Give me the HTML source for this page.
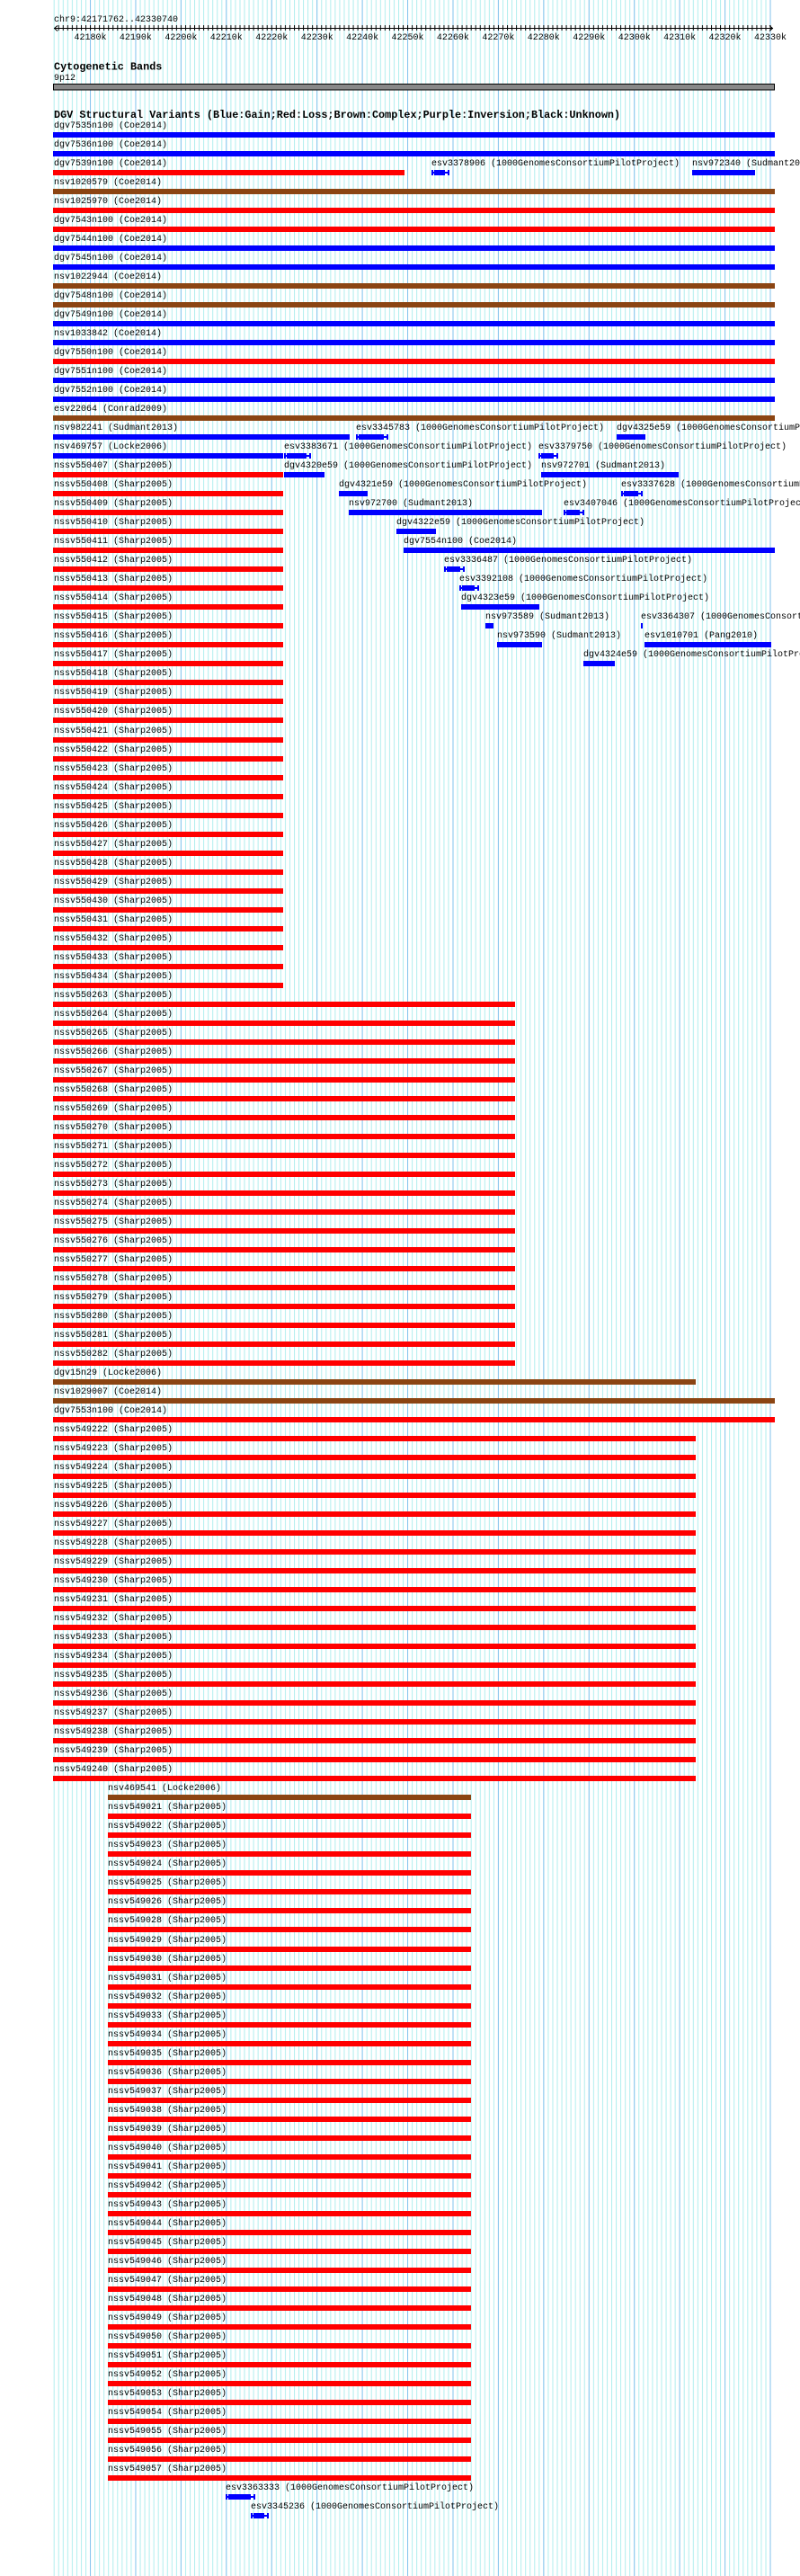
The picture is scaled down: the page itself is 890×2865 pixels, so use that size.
<!DOCTYPE html>
<html><head><meta charset="utf-8"><style>
body{margin:0;background:#fff;width:890px;height:2865px;position:relative;overflow:hidden;font-family:"Liberation Mono",monospace}
svg.bg{position:absolute;left:0;top:0}
#rows{position:absolute;left:0;top:135px;width:890px;overflow:hidden}
.r{position:relative;height:21.02px}
.t{position:absolute;top:0;font:10px/11px "Liberation Mono",monospace;color:#000;white-space:nowrap}
.b{position:absolute;top:12px;height:6px}
.B{background:#0000ff}.R{background:#ff0000}.N{background:#8b4513}
.f{left:59px;width:803px}
.s1{left:59px;width:256px}
.s2{left:59px;width:514px}
.s3{left:59px;width:715px}
.s4{left:120px;width:404px}
.i{position:absolute;top:12px;height:6px}
.i:before{content:"";position:absolute;left:0;right:0;top:2px;height:2px;background:#00f}
.i:after{content:"";position:absolute;left:0;right:0;top:0;bottom:0;border-left:2px solid #00f;border-right:2px solid #00f}
.i i{position:absolute;left:3px;right:5px;top:0;height:6px;background:#00f}
</style></head><body>
<svg class="bg" width="890" height="2865" xmlns="http://www.w3.org/2000/svg">
<defs>
<pattern id="mi" patternUnits="userSpaceOnUse" x="59.7" y="0" width="5.0433" height="20"><rect x="0" y="0" width="1" height="20" fill="#b0eeee"/></pattern>
<pattern id="ma" patternUnits="userSpaceOnUse" x="100" y="0" width="50.433" height="20"><rect x="0" y="0" width="1" height="20" fill="#88c4ee"/></pattern>
<pattern id="tk" patternUnits="userSpaceOnUse" x="59.7" y="0" width="5.0433" height="40"><rect x="0" y="28" width="1" height="6" fill="#000"/></pattern>
</defs>
<rect x="59" y="0" width="800" height="2865" fill="url(#mi)"/>
<rect x="59" y="0" width="800" height="2865" fill="url(#ma)"/>
<text x="60" y="24" font-family="Liberation Mono" font-size="10">chr9:42171762..42330740</text>
<rect x="61" y="28" width="798" height="6" fill="url(#tk)"/>
<line x1="60" y1="31.5" x2="860" y2="31.5" stroke="#000" stroke-width="1"/>
<path d="M64 28.5 L60.5 31.5 L64 34.5 M856 28.5 L859.5 31.5 L856 34.5" stroke="#000" fill="none"/>
<g font-family="Liberation Mono" font-size="10" text-anchor="middle">
<text x="100.5" y="44">42180k</text><text x="150.9" y="44">42190k</text><text x="201.4" y="44">42200k</text><text x="251.8" y="44">42210k</text><text x="302.2" y="44">42220k</text><text x="352.7" y="44">42230k</text><text x="403.1" y="44">42240k</text><text x="453.5" y="44">42250k</text><text x="503.9" y="44">42260k</text><text x="554.4" y="44">42270k</text><text x="604.8" y="44">42280k</text><text x="655.2" y="44">42290k</text><text x="705.7" y="44">42300k</text><text x="756.1" y="44">42310k</text><text x="806.5" y="44">42320k</text><text x="857" y="44">42330k</text>
</g>
<text x="60" y="77.5" font-family="Liberation Mono" font-size="11.8" font-weight="bold">Cytogenetic Bands</text>
<text x="60" y="89" font-family="Liberation Mono" font-size="10">9p12</text>
<rect x="59.5" y="93.5" width="802" height="6.5" fill="#888" stroke="#000" stroke-width="1"/>
<text x="60" y="131" font-family="Liberation Mono" font-size="11.8" font-weight="bold">DGV Structural Variants (Blue:Gain;Red:Loss;Brown:Complex;Purple:Inversion;Black:Unknown)</text>
</svg>
<div id="rows">
<div class="r"><span class="t" style="left:60px">dgv7535n100 (Coe2014)</span><div class="b B f"></div></div>
<div class="r"><span class="t" style="left:60px">dgv7536n100 (Coe2014)</span><div class="b B f"></div></div>
<div class="r"><span class="t" style="left:60px">dgv7539n100 (Coe2014)</span><div class="b R" style="left:59px;width:391px"></div><span class="t" style="left:480px">esv3378906 (1000GenomesConsortiumPilotProject)</span><div class="i" style="left:480px;width:20px"><i></i></div><span class="t" style="left:770px">nsv972340 (Sudmant2013)</span><div class="b B" style="left:770px;width:70px"></div></div>
<div class="r"><span class="t" style="left:60px">nsv1020579 (Coe2014)</span><div class="b N f"></div></div>
<div class="r"><span class="t" style="left:60px">nsv1025970 (Coe2014)</span><div class="b R f"></div></div>
<div class="r"><span class="t" style="left:60px">dgv7543n100 (Coe2014)</span><div class="b R f"></div></div>
<div class="r"><span class="t" style="left:60px">dgv7544n100 (Coe2014)</span><div class="b B f"></div></div>
<div class="r"><span class="t" style="left:60px">dgv7545n100 (Coe2014)</span><div class="b B f"></div></div>
<div class="r"><span class="t" style="left:60px">nsv1022944 (Coe2014)</span><div class="b N f"></div></div>
<div class="r"><span class="t" style="left:60px">dgv7548n100 (Coe2014)</span><div class="b N f"></div></div>
<div class="r"><span class="t" style="left:60px">dgv7549n100 (Coe2014)</span><div class="b B f"></div></div>
<div class="r"><span class="t" style="left:60px">nsv1033842 (Coe2014)</span><div class="b B f"></div></div>
<div class="r"><span class="t" style="left:60px">dgv7550n100 (Coe2014)</span><div class="b R f"></div></div>
<div class="r"><span class="t" style="left:60px">dgv7551n100 (Coe2014)</span><div class="b B f"></div></div>
<div class="r"><span class="t" style="left:60px">dgv7552n100 (Coe2014)</span><div class="b B f"></div></div>
<div class="r"><span class="t" style="left:60px">esv22064 (Conrad2009)</span><div class="b N f"></div></div>
<div class="r"><span class="t" style="left:60px">nsv982241 (Sudmant2013)</span><div class="b B" style="left:59px;width:330px"></div><span class="t" style="left:396px">esv3345783 (1000GenomesConsortiumPilotProject)</span><div class="i" style="left:396px;width:36px"><i></i></div><span class="t" style="left:686px">dgv4325e59 (1000GenomesConsortiumPilotProject)</span><div class="b B" style="left:686px;width:32px"></div></div>
<div class="r"><span class="t" style="left:60px">nsv469757 (Locke2006)</span><div class="b B" style="left:59px;width:256px"></div><span class="t" style="left:316px">esv3383671 (1000GenomesConsortiumPilotProject)</span><div class="i" style="left:316px;width:30px"><i></i></div><span class="t" style="left:599px">esv3379750 (1000GenomesConsortiumPilotProject)</span><div class="i" style="left:599px;width:22px"><i></i></div></div>
<div class="r"><span class="t" style="left:60px">nssv550407 (Sharp2005)</span><div class="b R s1"></div><span class="t" style="left:316px">dgv4320e59 (1000GenomesConsortiumPilotProject)</span><div class="b B" style="left:316px;width:45px"></div><span class="t" style="left:602px">nsv972701 (Sudmant2013)</span><div class="b B" style="left:602px;width:153px"></div></div>
<div class="r"><span class="t" style="left:60px">nssv550408 (Sharp2005)</span><div class="b R s1"></div><span class="t" style="left:377px">dgv4321e59 (1000GenomesConsortiumPilotProject)</span><div class="b B" style="left:377px;width:32px"></div><span class="t" style="left:691px">esv3337628 (1000GenomesConsortiumPilotProject)</span><div class="i" style="left:691px;width:24px"><i></i></div></div>
<div class="r"><span class="t" style="left:60px">nssv550409 (Sharp2005)</span><div class="b R s1"></div><span class="t" style="left:388px">nsv972700 (Sudmant2013)</span><div class="b B" style="left:388px;width:215px"></div><span class="t" style="left:627px">esv3407046 (1000GenomesConsortiumPilotProject)</span><div class="i" style="left:627px;width:23px"><i></i></div></div>
<div class="r"><span class="t" style="left:60px">nssv550410 (Sharp2005)</span><div class="b R s1"></div><span class="t" style="left:441px">dgv4322e59 (1000GenomesConsortiumPilotProject)</span><div class="b B" style="left:441px;width:44px"></div></div>
<div class="r"><span class="t" style="left:60px">nssv550411 (Sharp2005)</span><div class="b R s1"></div><span class="t" style="left:449px">dgv7554n100 (Coe2014)</span><div class="b B" style="left:449px;width:413px"></div></div>
<div class="r"><span class="t" style="left:60px">nssv550412 (Sharp2005)</span><div class="b R s1"></div><span class="t" style="left:494px">esv3336487 (1000GenomesConsortiumPilotProject)</span><div class="i" style="left:494px;width:23px"><i></i></div></div>
<div class="r"><span class="t" style="left:60px">nssv550413 (Sharp2005)</span><div class="b R s1"></div><span class="t" style="left:511px">esv3392108 (1000GenomesConsortiumPilotProject)</span><div class="i" style="left:511px;width:22px"><i></i></div></div>
<div class="r"><span class="t" style="left:60px">nssv550414 (Sharp2005)</span><div class="b R s1"></div><span class="t" style="left:513px">dgv4323e59 (1000GenomesConsortiumPilotProject)</span><div class="b B" style="left:513px;width:87px"></div></div>
<div class="r"><span class="t" style="left:60px">nssv550415 (Sharp2005)</span><div class="b R s1"></div><span class="t" style="left:540px">nsv973589 (Sudmant2013)</span><div class="b B" style="left:540px;width:9px"></div><span class="t" style="left:713px">esv3364307 (1000GenomesConsortiumPilotProject)</span><div class="b B" style="left:713px;width:2px"></div></div>
<div class="r"><span class="t" style="left:60px">nssv550416 (Sharp2005)</span><div class="b R s1"></div><span class="t" style="left:553px">nsv973590 (Sudmant2013)</span><div class="b B" style="left:553px;width:50px"></div><span class="t" style="left:717px">esv1010701 (Pang2010)</span><div class="b B" style="left:717px;width:141px"></div></div>
<div class="r"><span class="t" style="left:60px">nssv550417 (Sharp2005)</span><div class="b R s1"></div><span class="t" style="left:649px">dgv4324e59 (1000GenomesConsortiumPilotProject)</span><div class="b B" style="left:649px;width:35px"></div></div>
<div class="r"><span class="t" style="left:60px">nssv550418 (Sharp2005)</span><div class="b R s1"></div></div>
<div class="r"><span class="t" style="left:60px">nssv550419 (Sharp2005)</span><div class="b R s1"></div></div>
<div class="r"><span class="t" style="left:60px">nssv550420 (Sharp2005)</span><div class="b R s1"></div></div>
<div class="r"><span class="t" style="left:60px">nssv550421 (Sharp2005)</span><div class="b R s1"></div></div>
<div class="r"><span class="t" style="left:60px">nssv550422 (Sharp2005)</span><div class="b R s1"></div></div>
<div class="r"><span class="t" style="left:60px">nssv550423 (Sharp2005)</span><div class="b R s1"></div></div>
<div class="r"><span class="t" style="left:60px">nssv550424 (Sharp2005)</span><div class="b R s1"></div></div>
<div class="r"><span class="t" style="left:60px">nssv550425 (Sharp2005)</span><div class="b R s1"></div></div>
<div class="r"><span class="t" style="left:60px">nssv550426 (Sharp2005)</span><div class="b R s1"></div></div>
<div class="r"><span class="t" style="left:60px">nssv550427 (Sharp2005)</span><div class="b R s1"></div></div>
<div class="r"><span class="t" style="left:60px">nssv550428 (Sharp2005)</span><div class="b R s1"></div></div>
<div class="r"><span class="t" style="left:60px">nssv550429 (Sharp2005)</span><div class="b R s1"></div></div>
<div class="r"><span class="t" style="left:60px">nssv550430 (Sharp2005)</span><div class="b R s1"></div></div>
<div class="r"><span class="t" style="left:60px">nssv550431 (Sharp2005)</span><div class="b R s1"></div></div>
<div class="r"><span class="t" style="left:60px">nssv550432 (Sharp2005)</span><div class="b R s1"></div></div>
<div class="r"><span class="t" style="left:60px">nssv550433 (Sharp2005)</span><div class="b R s1"></div></div>
<div class="r"><span class="t" style="left:60px">nssv550434 (Sharp2005)</span><div class="b R s1"></div></div>
<div class="r"><span class="t" style="left:60px">nssv550263 (Sharp2005)</span><div class="b R s2"></div></div>
<div class="r"><span class="t" style="left:60px">nssv550264 (Sharp2005)</span><div class="b R s2"></div></div>
<div class="r"><span class="t" style="left:60px">nssv550265 (Sharp2005)</span><div class="b R s2"></div></div>
<div class="r"><span class="t" style="left:60px">nssv550266 (Sharp2005)</span><div class="b R s2"></div></div>
<div class="r"><span class="t" style="left:60px">nssv550267 (Sharp2005)</span><div class="b R s2"></div></div>
<div class="r"><span class="t" style="left:60px">nssv550268 (Sharp2005)</span><div class="b R s2"></div></div>
<div class="r"><span class="t" style="left:60px">nssv550269 (Sharp2005)</span><div class="b R s2"></div></div>
<div class="r"><span class="t" style="left:60px">nssv550270 (Sharp2005)</span><div class="b R s2"></div></div>
<div class="r"><span class="t" style="left:60px">nssv550271 (Sharp2005)</span><div class="b R s2"></div></div>
<div class="r"><span class="t" style="left:60px">nssv550272 (Sharp2005)</span><div class="b R s2"></div></div>
<div class="r"><span class="t" style="left:60px">nssv550273 (Sharp2005)</span><div class="b R s2"></div></div>
<div class="r"><span class="t" style="left:60px">nssv550274 (Sharp2005)</span><div class="b R s2"></div></div>
<div class="r"><span class="t" style="left:60px">nssv550275 (Sharp2005)</span><div class="b R s2"></div></div>
<div class="r"><span class="t" style="left:60px">nssv550276 (Sharp2005)</span><div class="b R s2"></div></div>
<div class="r"><span class="t" style="left:60px">nssv550277 (Sharp2005)</span><div class="b R s2"></div></div>
<div class="r"><span class="t" style="left:60px">nssv550278 (Sharp2005)</span><div class="b R s2"></div></div>
<div class="r"><span class="t" style="left:60px">nssv550279 (Sharp2005)</span><div class="b R s2"></div></div>
<div class="r"><span class="t" style="left:60px">nssv550280 (Sharp2005)</span><div class="b R s2"></div></div>
<div class="r"><span class="t" style="left:60px">nssv550281 (Sharp2005)</span><div class="b R s2"></div></div>
<div class="r"><span class="t" style="left:60px">nssv550282 (Sharp2005)</span><div class="b R s2"></div></div>
<div class="r"><span class="t" style="left:60px">dgv15n29 (Locke2006)</span><div class="b N s3"></div></div>
<div class="r"><span class="t" style="left:60px">nsv1029007 (Coe2014)</span><div class="b N f"></div></div>
<div class="r"><span class="t" style="left:60px">dgv7553n100 (Coe2014)</span><div class="b R f"></div></div>
<div class="r"><span class="t" style="left:60px">nssv549222 (Sharp2005)</span><div class="b R s3"></div></div>
<div class="r"><span class="t" style="left:60px">nssv549223 (Sharp2005)</span><div class="b R s3"></div></div>
<div class="r"><span class="t" style="left:60px">nssv549224 (Sharp2005)</span><div class="b R s3"></div></div>
<div class="r"><span class="t" style="left:60px">nssv549225 (Sharp2005)</span><div class="b R s3"></div></div>
<div class="r"><span class="t" style="left:60px">nssv549226 (Sharp2005)</span><div class="b R s3"></div></div>
<div class="r"><span class="t" style="left:60px">nssv549227 (Sharp2005)</span><div class="b R s3"></div></div>
<div class="r"><span class="t" style="left:60px">nssv549228 (Sharp2005)</span><div class="b R s3"></div></div>
<div class="r"><span class="t" style="left:60px">nssv549229 (Sharp2005)</span><div class="b R s3"></div></div>
<div class="r"><span class="t" style="left:60px">nssv549230 (Sharp2005)</span><div class="b R s3"></div></div>
<div class="r"><span class="t" style="left:60px">nssv549231 (Sharp2005)</span><div class="b R s3"></div></div>
<div class="r"><span class="t" style="left:60px">nssv549232 (Sharp2005)</span><div class="b R s3"></div></div>
<div class="r"><span class="t" style="left:60px">nssv549233 (Sharp2005)</span><div class="b R s3"></div></div>
<div class="r"><span class="t" style="left:60px">nssv549234 (Sharp2005)</span><div class="b R s3"></div></div>
<div class="r"><span class="t" style="left:60px">nssv549235 (Sharp2005)</span><div class="b R s3"></div></div>
<div class="r"><span class="t" style="left:60px">nssv549236 (Sharp2005)</span><div class="b R s3"></div></div>
<div class="r"><span class="t" style="left:60px">nssv549237 (Sharp2005)</span><div class="b R s3"></div></div>
<div class="r"><span class="t" style="left:60px">nssv549238 (Sharp2005)</span><div class="b R s3"></div></div>
<div class="r"><span class="t" style="left:60px">nssv549239 (Sharp2005)</span><div class="b R s3"></div></div>
<div class="r"><span class="t" style="left:60px">nssv549240 (Sharp2005)</span><div class="b R s3"></div></div>
<div class="r"><span class="t" style="left:120px">nsv469541 (Locke2006)</span><div class="b N s4"></div></div>
<div class="r"><span class="t" style="left:120px">nssv549021 (Sharp2005)</span><div class="b R s4"></div></div>
<div class="r"><span class="t" style="left:120px">nssv549022 (Sharp2005)</span><div class="b R s4"></div></div>
<div class="r"><span class="t" style="left:120px">nssv549023 (Sharp2005)</span><div class="b R s4"></div></div>
<div class="r"><span class="t" style="left:120px">nssv549024 (Sharp2005)</span><div class="b R s4"></div></div>
<div class="r"><span class="t" style="left:120px">nssv549025 (Sharp2005)</span><div class="b R s4"></div></div>
<div class="r"><span class="t" style="left:120px">nssv549026 (Sharp2005)</span><div class="b R s4"></div></div>
<div class="r"><span class="t" style="left:120px">nssv549028 (Sharp2005)</span><div class="b R s4"></div></div>
<div class="r"><span class="t" style="left:120px">nssv549029 (Sharp2005)</span><div class="b R s4"></div></div>
<div class="r"><span class="t" style="left:120px">nssv549030 (Sharp2005)</span><div class="b R s4"></div></div>
<div class="r"><span class="t" style="left:120px">nssv549031 (Sharp2005)</span><div class="b R s4"></div></div>
<div class="r"><span class="t" style="left:120px">nssv549032 (Sharp2005)</span><div class="b R s4"></div></div>
<div class="r"><span class="t" style="left:120px">nssv549033 (Sharp2005)</span><div class="b R s4"></div></div>
<div class="r"><span class="t" style="left:120px">nssv549034 (Sharp2005)</span><div class="b R s4"></div></div>
<div class="r"><span class="t" style="left:120px">nssv549035 (Sharp2005)</span><div class="b R s4"></div></div>
<div class="r"><span class="t" style="left:120px">nssv549036 (Sharp2005)</span><div class="b R s4"></div></div>
<div class="r"><span class="t" style="left:120px">nssv549037 (Sharp2005)</span><div class="b R s4"></div></div>
<div class="r"><span class="t" style="left:120px">nssv549038 (Sharp2005)</span><div class="b R s4"></div></div>
<div class="r"><span class="t" style="left:120px">nssv549039 (Sharp2005)</span><div class="b R s4"></div></div>
<div class="r"><span class="t" style="left:120px">nssv549040 (Sharp2005)</span><div class="b R s4"></div></div>
<div class="r"><span class="t" style="left:120px">nssv549041 (Sharp2005)</span><div class="b R s4"></div></div>
<div class="r"><span class="t" style="left:120px">nssv549042 (Sharp2005)</span><div class="b R s4"></div></div>
<div class="r"><span class="t" style="left:120px">nssv549043 (Sharp2005)</span><div class="b R s4"></div></div>
<div class="r"><span class="t" style="left:120px">nssv549044 (Sharp2005)</span><div class="b R s4"></div></div>
<div class="r"><span class="t" style="left:120px">nssv549045 (Sharp2005)</span><div class="b R s4"></div></div>
<div class="r"><span class="t" style="left:120px">nssv549046 (Sharp2005)</span><div class="b R s4"></div></div>
<div class="r"><span class="t" style="left:120px">nssv549047 (Sharp2005)</span><div class="b R s4"></div></div>
<div class="r"><span class="t" style="left:120px">nssv549048 (Sharp2005)</span><div class="b R s4"></div></div>
<div class="r"><span class="t" style="left:120px">nssv549049 (Sharp2005)</span><div class="b R s4"></div></div>
<div class="r"><span class="t" style="left:120px">nssv549050 (Sharp2005)</span><div class="b R s4"></div></div>
<div class="r"><span class="t" style="left:120px">nssv549051 (Sharp2005)</span><div class="b R s4"></div></div>
<div class="r"><span class="t" style="left:120px">nssv549052 (Sharp2005)</span><div class="b R s4"></div></div>
<div class="r"><span class="t" style="left:120px">nssv549053 (Sharp2005)</span><div class="b R s4"></div></div>
<div class="r"><span class="t" style="left:120px">nssv549054 (Sharp2005)</span><div class="b R s4"></div></div>
<div class="r"><span class="t" style="left:120px">nssv549055 (Sharp2005)</span><div class="b R s4"></div></div>
<div class="r"><span class="t" style="left:120px">nssv549056 (Sharp2005)</span><div class="b R s4"></div></div>
<div class="r"><span class="t" style="left:120px">nssv549057 (Sharp2005)</span><div class="b R s4"></div></div>
<div class="r"><span class="t" style="left:251px">esv3363333 (1000GenomesConsortiumPilotProject)</span><div class="i" style="left:251px;width:33px"><i></i></div></div>
<div class="r"><span class="t" style="left:279px">esv3345236 (1000GenomesConsortiumPilotProject)</span><div class="i" style="left:279px;width:20px"><i></i></div></div>
</div>
</body></html>
